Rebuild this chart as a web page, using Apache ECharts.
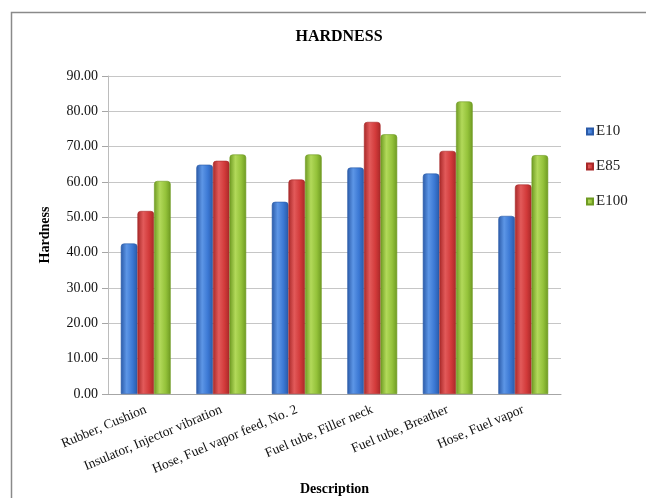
<!DOCTYPE html>
<html>
<head>
<meta charset="utf-8">
<script src="https://cdn.jsdelivr.net/npm/echarts@6/dist/echarts.min.js"></script>
<style>
  html, body { margin: 0; padding: 0; background: #fff; }
  #chart { width: 646px; height: 498px; }
</style>
</head>
<body>
<div id="chart"></div>
<script>
// Hardness of elastomer parts after exposure to each fuel blend
const categories = [
  'Rubber, Cushion',
  'Insulator, Injector vibration',
  'Hose, Fuel vapor feed, No. 2',
  'Fuel tube, Filler neck',
  'Fuel tube, Breather',
  'Hose, Fuel vapor'
];
const e10  = [42.6, 64.9, 54.4, 64.1, 62.4, 50.4];
const e85  = [51.8, 66.0, 60.7, 77.0, 68.8, 59.3];
const e100 = [60.3, 67.8, 67.8, 73.5, 82.8, 67.6];
const yTicks = [0, 10, 20, 30, 40, 50, 60, 70, 80, 90];

const serif = '"Liberation Serif", "DejaVu Serif", serif';

// horizontal gradient gives the bars a rounded, lit look
function shade(dark, mid, light) {
  return new echarts.graphic.LinearGradient(0, 0, 1, 0, [
    { offset: 0, color: dark },
    { offset: 0.35, color: light },
    { offset: 0.7, color: mid },
    { offset: 1, color: dark }
  ]);
}

const palette = {
  E10:  { dark: '#2a5aa8', mid: '#3b78d4', light: '#5d96e6', legend: '#3b78d4' },
  E85:  { dark: '#a82828', mid: '#d23a3a', light: '#e25a5a', legend: '#d23a3a' },
  E100: { dark: '#6e9a22', mid: '#94c23a', light: '#b2d95a', legend: '#94c23a' }
};

function barSeries(name, data) {
  const p = palette[name];
  return {
    name: name,
    type: 'bar',
    data: data,
    barGap: '0%',
    barCategoryGap: '34%',
    itemStyle: {
      color: shade(p.dark, p.mid, p.light),
      borderColor: p.dark,
      borderWidth: 0.6,
      borderRadius: [3, 3, 0, 0]
    }
  };
}

const chart = echarts.init(document.getElementById('chart'), null, { renderer: 'canvas' });

chart.setOption({
  animation: false,
  backgroundColor: '#fff',
  color: [palette.E10.legend, palette.E85.legend, palette.E100.legend],
  title: {
    text: 'HARDNESS',
    left: 334,
    top: 24,
    textAlign: 'center',
    textStyle: { fontFamily: serif, fontWeight: 'bold', fontSize: 16, color: '#000' }
  },
  legend: {
    orient: 'vertical',
    left: 581,
    top: 119,
    itemWidth: 6,
    itemHeight: 6,
    itemGap: 20,
    icon: 'rect',
    textStyle: { fontFamily: serif, fontSize: 15, color: '#222', padding: [0, 0, 0, -2] },
    data: ['E10', 'E85', 'E100']
  },
  grid: { left: 108, right: 85, top: 76, bottom: 104, containLabel: false, outerBoundsMode: 'none' },
  xAxis: {
    type: 'category',
    data: categories,
    name: 'Description',
    nameLocation: 'middle',
    nameGap: 86,
    nameTextStyle: { fontFamily: serif, fontWeight: 'bold', fontSize: 14, color: '#000' },
    axisLine: { lineStyle: { color: '#a6a6a6', width: 1 } },
    axisTick: { show: false },
    axisLabel: {
      interval: 0,
      rotate: 23,
      margin: 15,
      fontFamily: serif,
      fontSize: 13.5,
      color: '#111'
    }
  },
  yAxis: {
    type: 'value',
    min: yTicks[0],
    max: yTicks[yTicks.length - 1],
    interval: yTicks[1] - yTicks[0],
    name: 'Hardness',
    nameLocation: 'middle',
    nameGap: 56,
    nameRotate: 90,
    nameTextStyle: { fontFamily: serif, fontWeight: 'bold', fontSize: 14, color: '#000' },
    axisLine: { show: true, lineStyle: { color: '#bcbcbc', width: 1 } },
    axisTick: { show: true, length: 6, lineStyle: { color: '#a6a6a6' } },
    axisLabel: {
      margin: 10,
      fontFamily: serif,
      fontSize: 14,
      color: '#111',
      formatter: v => v.toFixed(2)
    },
    splitLine: { lineStyle: { color: '#c6c6c6', width: 1 } }
  },
  graphic: [{
    type: 'rect',
    shape: { x: 11.5, y: 12.5, width: 700, height: 600 },
    style: { fill: 'none', stroke: '#8a8a8a', lineWidth: 1.5 },
    silent: true,
    z: 0
  }],
  series: [
    barSeries('E10', e10),
    barSeries('E85', e85),
    barSeries('E100', e100)
  ]
});
</script>
</body>
</html>
